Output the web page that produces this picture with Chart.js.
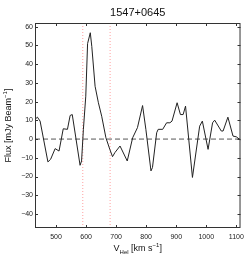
<!DOCTYPE html>
<html>
<head>
<meta charset="utf-8">
<script src="https://cdn.jsdelivr.net/npm/chart.js@4"></script>
<style>
  html, body { margin: 0; padding: 0; background: #fff; }
  #wrap { width: 249px; height: 260px; }
</style>
</head>
<body>
<div id="wrap"><canvas id="spec"></canvas></div>
<script>
// spectrum of 1547+0645
const velocity = [430, 438, 447, 473, 482, 497, 510, 524, 538, 547, 554, 580, 585, 591, 599, 605, 614, 619, 630, 641, 652, 666, 679, 688, 696, 713, 737, 755, 771, 788, 799, 816, 821, 835, 840, 855, 868, 879, 886, 903, 914, 923, 931, 954, 978, 987, 1006, 1021, 1028, 1050, 1056, 1072, 1089, 1100, 1114];
const flux = [10.5, 11.7, 9.6, -12.2, -10.8, -5.1, -6.4, 5.5, 5.2, 12.6, 13.1, -14, -11.7, 5, 22.9, 51, 56.8, 49.5, 28.2, 19.4, 12.2, 0.7, -5.5, -9.4, -7.2, -3.7, -11.7, 0.7, 6.1, 17.9, 5.2, -17, -15.2, 3.4, 5.2, 5.2, 8.7, 8.7, 9.6, 19.4, 13.1, 13.1, 17.6, -20.5, 6.9, 9.6, -5.5, 8.7, 10.1, 4.3, 4.3, 11.7, 1.6, 1.2, -0.5];
const velLimits = [589, 680];
const xRange = [430, 1114];
const yRange = [-47.5, 62];
const xTicks = [500, 600, 700, 800, 900, 1000, 1100];
const yTicks = [-40, -30, -20, -10, 0, 10, 20, 30, 40, 50, 60];
const plotTitle = '1547+0645';

const FONT = '"Liberation Sans", Arial, sans-serif';
const AXIS = '#333';

// title, axis labels with sub/superscripts, box and inward ticks
const decor = {
    id: 'decor',
    afterDraw(chart) {
        const { ctx, chartArea: a, scales } = chart;
        ctx.save();
        ctx.strokeStyle = AXIS;
        ctx.lineWidth = 1;
        ctx.strokeRect(a.left + 0.5, a.top + 0.5, a.right - a.left - 1, a.bottom - a.top - 1);
        ctx.beginPath();
        xTicks.forEach(v => {
            const px = Math.round(scales.x.getPixelForValue(v)) + 0.5;
            ctx.moveTo(px, a.bottom); ctx.lineTo(px, a.bottom - 3);
            ctx.moveTo(px, a.top); ctx.lineTo(px, a.top + 3);
        });
        yTicks.forEach(v => {
            const py = Math.round(scales.y.getPixelForValue(v)) + 0.5;
            ctx.moveTo(a.left, py); ctx.lineTo(a.left + 3, py);
            ctx.moveTo(a.right, py); ctx.lineTo(a.right - 3, py);
        });
        ctx.stroke();

        ctx.fillStyle = '#111';
        ctx.textBaseline = 'alphabetic';
        const cx = (a.left + a.right) / 2;

        ctx.font = '11px ' + FONT;
        ctx.textAlign = 'center';
        ctx.fillText(plotTitle, cx, 16);

        // x label: V_Hel [km s^-1]
        const parts = [
            ['V', 9, 0], ['Hel', 6, 3], [' [km s', 9, 0], ['\u22121', 6, -4], [']', 9, 0]
        ];
        const measure = list => list.reduce((w, [t, s]) => { ctx.font = s + 'px ' + FONT; return w + ctx.measureText(t).width; }, 0);
        const drawParts = (list, x0, y0) => {
            let x = x0;
            list.forEach(([t, s, dy]) => {
                ctx.font = s + 'px ' + FONT;
                ctx.textAlign = 'left';
                ctx.fillText(t, x, y0 + dy);
                x += ctx.measureText(t).width;
            });
        };
        drawParts(parts, cx - measure(parts) / 2, 251);

        // y label: Flux [mJy Beam^-1]
        const yparts = [['Flux [mJy Beam', 9, 0], ['\u22121', 6, -4], [']', 9, 0]];
        ctx.translate(11, (a.top + a.bottom) / 2);
        ctx.rotate(-Math.PI / 2);
        drawParts(yparts, -measure(yparts) / 2, 0);
        ctx.restore();
    }
};

new Chart(document.getElementById('spec'), {
    type: 'line',
    data: {
        datasets: [
            {
                data: velocity.map((v, i) => ({ x: v, y: flux[i] })),
                borderColor: '#222',
                borderWidth: 1,
                pointRadius: 0,
                tension: 0,
                order: 0
            },
            {
                data: xRange.map(v => ({ x: v, y: 0 })),
                borderColor: '#555',
                borderWidth: 1,
                borderDash: [5, 3],
                pointRadius: 0,
                order: 1
            },
            ...velLimits.map(v => ({
                data: yRange.map(f => ({ x: v, y: f })),
                borderColor: '#ffa0a0',
                borderWidth: 1,
                borderDash: [1, 2],
                pointRadius: 0,
                order: 2
            }))
        ]
    },
    options: {
        responsive: true,
        maintainAspectRatio: false,
        animation: false,
        events: [],
        layout: { padding: { top: 23, right: 8, left: 0, bottom: 0 } },
        plugins: { legend: { display: false }, tooltip: { enabled: false } },
        scales: {
            x: {
                type: 'linear',
                min: xRange[0],
                max: xRange[1],
                afterBuildTicks: s => { s.ticks = xTicks.map(v => ({ value: v })); },
                afterFit: s => { s.height = 32; },
                grid: { display: false, drawTicks: false },
                border: { display: false },
                ticks: {
                    font: { size: 7, family: FONT }, color: '#222', padding: 5, maxRotation: 0,
                    callback: v => String(v)
                }
            },
            y: {
                type: 'linear',
                min: yRange[0],
                max: yRange[1],
                afterBuildTicks: s => { s.ticks = yTicks.map(v => ({ value: v })); },
                afterFit: s => { s.width = 35; },
                grid: { display: false, drawTicks: false },
                border: { display: false },
                ticks: {
                    font: { size: 7, family: FONT }, color: '#222', padding: 2,
                    callback: v => (v < 0 ? '\u2212' + Math.abs(v) : String(v))
                }
            }
        }
    },
    plugins: [decor]
});
</script>
</body>
</html>
